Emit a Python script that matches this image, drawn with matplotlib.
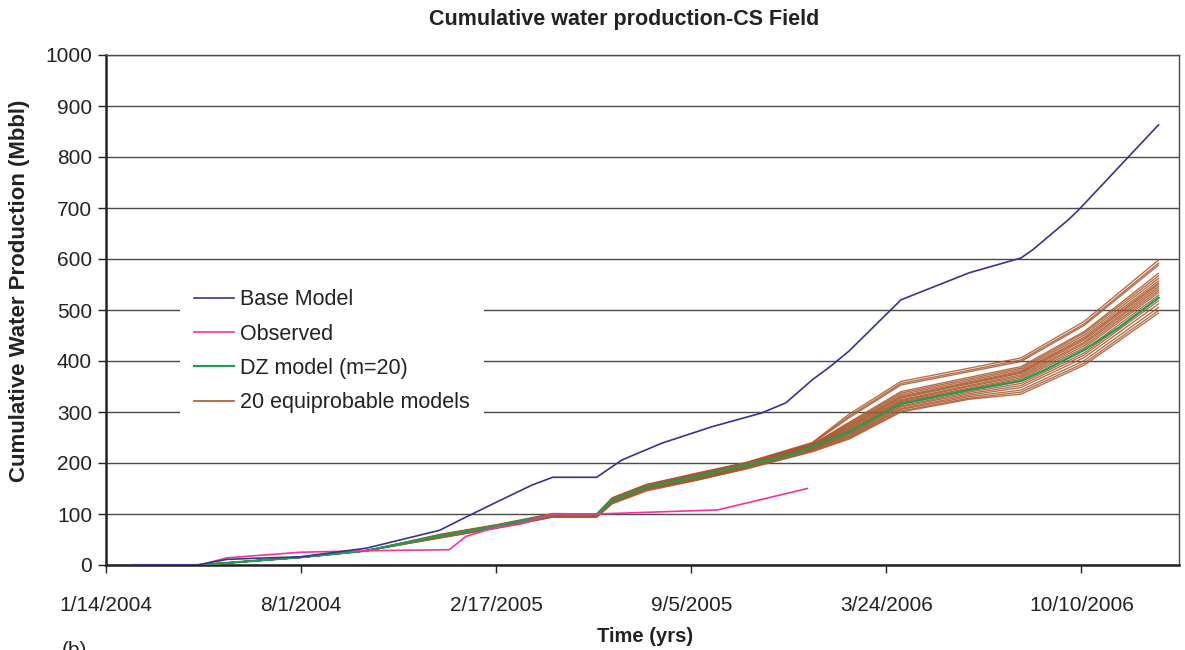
import numpy as np
import pandas as pd
import matplotlib
matplotlib.use("Agg")
import matplotlib.pyplot as plt
from matplotlib.lines import Line2D

plt.rcParams['font.family'] = ['Liberation Sans', 'DejaVu Sans']

start = pd.Timestamp('2004-01-14')

# days counted from 1/14/2004
base_days = [27, 93, 124, 150, 199, 267, 342, 369, 400, 437, 458, 503, 529, 570, 621,
             672, 697, 724, 743, 762, 815, 885, 938, 950, 986, 997, 1079]
base_vals = [0, 0, 11, 13, 16, 33, 68, 94, 123, 157, 172, 172, 206, 239, 271,
             298, 318, 363, 390, 420, 520, 573, 602, 618, 676, 696, 863]

obs_days = [27, 96, 124, 165, 199, 267, 352, 369, 396, 424, 458, 503, 627, 719]
obs_vals = [0, 0, 14, 20, 25, 28, 30, 56, 72, 80, 100, 100, 108, 150]

dz_days = [27, 96, 199, 267, 342, 400, 458, 503, 519, 554, 605, 656, 703, 724,
           762, 815, 885, 938, 962, 1003, 1038, 1079]
dz_vals = [0, 0, 15, 28, 57, 76, 98, 99, 127, 153, 173, 196, 216, 232,
           261, 316, 343, 361, 382, 422, 465, 524]

# 20 equiprobable models: shared start, then one row per model
eq_early_days = [27, 96, 199, 267]
eq_early_vals = [0, 0, 15, 28]
eq_days = [342, 400, 458, 503, 519, 554, 605, 656, 724, 762, 815, 885, 938, 1003, 1079]
eq_vals = [
    [60, 79, 101, 100, 132, 158, 180, 201, 240, 296, 360, 386, 406, 478, 598],
    [59, 78, 100, 100, 131, 157, 179, 200, 239, 292, 356, 382, 402, 473, 592],
    [59, 78, 100, 99, 131, 157, 178, 200, 238, 289, 353, 379, 399, 470, 588],
    [58, 77, 99, 99, 130, 156, 177, 199, 236, 280, 340, 368, 389, 458, 572],
    [58, 77, 99, 99, 130, 156, 176, 199, 236, 278, 337, 365, 386, 455, 567],
    [58, 77, 99, 98, 129, 155, 176, 198, 235, 276, 334, 362, 383, 451, 562],
    [57, 76, 98, 98, 129, 155, 175, 198, 234, 274, 331, 359, 380, 447, 557],
    [57, 76, 98, 98, 128, 154, 174, 197, 234, 272, 329, 357, 378, 444, 553],
    [57, 76, 98, 97, 128, 154, 174, 197, 233, 270, 327, 355, 376, 441, 550],
    [57, 75, 97, 97, 127, 153, 173, 196, 232, 268, 324, 352, 373, 437, 546],
    [56, 75, 97, 97, 127, 153, 172, 196, 232, 266, 322, 350, 370, 434, 542],
    [56, 75, 97, 96, 126, 152, 172, 195, 231, 264, 320, 347, 367, 430, 538],
    [56, 74, 96, 96, 126, 152, 171, 195, 230, 262, 318, 345, 364, 426, 534],
    [55, 74, 96, 96, 125, 151, 170, 194, 229, 259, 315, 342, 360, 421, 529],
    [55, 74, 96, 95, 124, 150, 170, 193, 228, 257, 312, 339, 356, 416, 523],
    [55, 73, 95, 95, 124, 150, 169, 192, 227, 255, 310, 336, 352, 412, 518],
    [54, 73, 95, 95, 123, 149, 168, 191, 226, 253, 307, 333, 348, 407, 512],
    [54, 73, 95, 94, 122, 148, 167, 190, 225, 251, 305, 330, 343, 401, 505],
    [53, 72, 94, 94, 121, 147, 166, 189, 223, 249, 302, 327, 339, 396, 499],
    [53, 72, 94, 94, 120, 145, 166, 188, 222, 247, 300, 325, 335, 392, 494],
]

tick_days = [0, 200, 400, 600, 800, 1000]
tick_labels = ['1/14/2004', '8/1/2004', '2/17/2005', '9/5/2005', '3/24/2006', '10/10/2006']

c_base = '#35358F'
c_obs = '#F7339A'
c_dz = '#1E9E55'
c_eq = '#A9582C'


def to_dates(days):
    return start + pd.to_timedelta(days, unit='D')


fig = plt.figure(figsize=(11.85, 6.5), dpi=100)
ax = fig.add_axes([106 / 1185, 85 / 650, 1073 / 1185, 510 / 650])

for row in eq_vals:
    ax.plot(to_dates(eq_early_days + eq_days), eq_early_vals + row,
            color=c_eq, lw=1.0, alpha=0.85, zorder=3)
ax.plot(to_dates(dz_days), dz_vals, color=c_dz, lw=1.6, zorder=4)
ax.plot(to_dates(obs_days), obs_vals, color=c_obs, lw=1.2, zorder=5)
ax.plot(to_dates(base_days), base_vals, color=c_base, lw=1.2, zorder=6)

ax.set_xlim(start, start + pd.Timedelta(days=1100))
ax.set_ylim(0, 1000)
ax.set_yticks(range(0, 1001, 100))
ax.set_xticks(to_dates(tick_days))
ax.set_xticklabels(tick_labels)
ax.tick_params(labelsize=15, direction='out', length=6, width=1, colors='#222222')
ax.tick_params(axis='x', pad=16)
ax.tick_params(axis='y', pad=4)
ax.yaxis.grid(True, color='#4a4a4a', lw=1.0)
ax.set_axisbelow(True)
for side in ['left', 'bottom']:
    ax.spines[side].set_linewidth(1.8)
    ax.spines[side].set_color('#222222')
for side in ['top', 'right']:
    ax.spines[side].set_linewidth(1.0)
    ax.spines[side].set_color('#4a4a4a')

fig.text(624 / 1185, 1 - 20 / 650, 'Cumulative water production-CS Field', fontsize=15.5,
         fontweight='bold', color='#222222', ha='center', va='center')
fig.text(20 / 1185, 1 - 291 / 650, 'Cumulative Water Production (Mbbl)', fontsize=16,
         fontweight='bold', color='#222222', rotation=90, ha='center', va='center')
fig.text(645 / 1185, 1 - 636 / 650, 'Time (yrs)', fontsize=14.5, fontweight='bold',
         color='#222222', ha='center', va='center')

handles = [Line2D([], [], color=c_base, lw=1.2),
           Line2D([], [], color=c_obs, lw=1.2),
           Line2D([], [], color=c_dz, lw=1.6),
           Line2D([], [], color=c_eq, lw=1.2)]
labels = ['Base Model', 'Observed', 'DZ model (m=20)', '20 equiprobable models']
leg = ax.legend(handles, labels, loc='upper left', bbox_to_anchor=(0.069, 0.568, 0.283, 0.0),
                mode='expand', frameon=True, fontsize=15.5, handlelength=1.85,
                handletextpad=0.3, labelspacing=0.62, borderpad=0.65, borderaxespad=0)
leg.get_frame().set_facecolor('white')
leg.get_frame().set_edgecolor('none')
leg.get_frame().set_alpha(1)
leg.get_frame().set_boxstyle('square', pad=0)
leg.set_zorder(10)
for t in leg.get_texts():
    t.set_color('#222222')

fig.text(62 / 1185, 1 - 641 / 650, '(b)', fontsize=15, color='#222222', va='top', ha='left')

fig.savefig('out.png', dpi=100)
